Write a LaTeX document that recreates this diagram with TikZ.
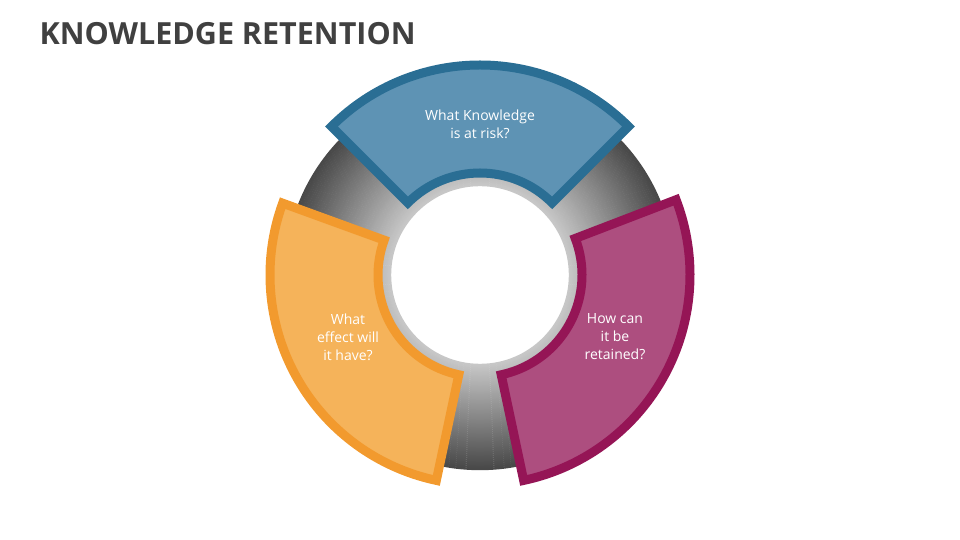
\documentclass[tikz,border=0pt]{standalone}
\usepackage{fontspec}
\setmainfont{Open Sans}
\usetikzlibrary{calc}
\begin{document}
\begin{tikzpicture}[x=1pt,y=1pt,
  seg/.style={line width=9pt,line join=miter},
  lbl/.style={text=white,font=\fontsize{14}{18}\selectfont,align=center}]
\useasboundingbox (0,0) rectangle (960,540);
\coordinate (c) at (480,265);
\node[anchor=west,font=\bfseries\fontsize{30.5}{34}\selectfont,text={rgb,255:red,64;green,64;blue,64}] (title) at (36,506) {KNOWLEDGE RETENTION};
% gray ring
\foreach \i in {0,...,52}{
  \pgfmathsetmacro{\rr}{90+\i*2}
  \pgfmathsetmacro{\gg}{22+\i*0.95}
  \draw[line width=2.4pt,black!\gg!white] (c) circle (\rr);
}
% blue
\draw[seg,draw={rgb,255:red,42;green,110;blue,148},fill={rgb,255:red,94;green,147;blue,180}]
  ($(c)+(45:210)$) arc (45:135:210) -- ($(c)+(135:102)$) arc (135:45:102) -- cycle;
% magenta
\draw[seg,draw={rgb,255:red,149;green,21;blue,86},fill={rgb,255:red,173;green,78;blue,127}]
  ($(c)+(-78:210)$) arc (-78:21:210) -- ($(c)+(21:102)$) arc (21:-78:102) -- cycle;
% orange
\draw[seg,draw={rgb,255:red,242;green,154;blue,46},fill={rgb,255:red,245;green,179;blue,90}]
  ($(c)+(160:210)$) arc (160:258:210) -- ($(c)+(258:102)$) arc (258:160:102) -- cycle;
\node[lbl] (t1) at (480,416) {What Knowledge\\is at risk?};
\node[lbl] (t2) at (615,203) {How can\\it be\\retained?};
\node[lbl] (t3) at (348,203) {What\\effect will\\it have?};
\end{tikzpicture}
\end{document}
